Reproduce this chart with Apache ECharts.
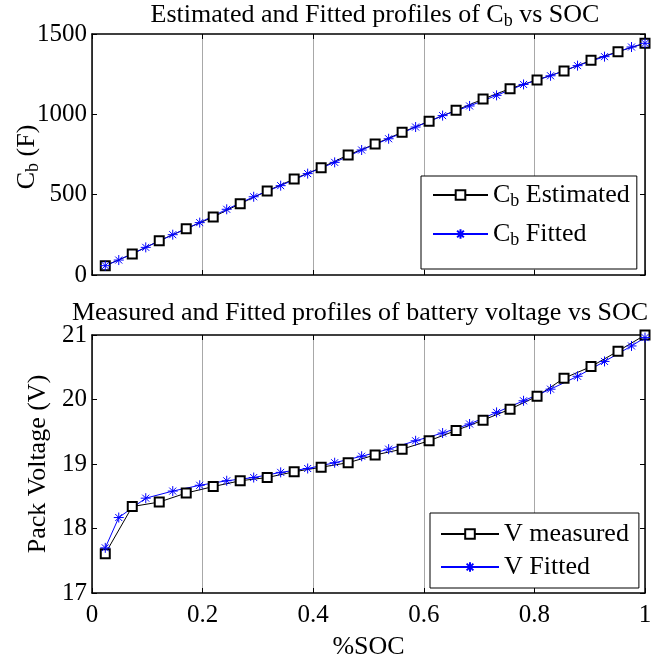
<!DOCTYPE html>
<html>
<head>
<meta charset="utf-8">
<script src="https://cdn.jsdelivr.net/npm/echarts@6/dist/echarts.min.js"></script>
<style>html,body{margin:0;padding:0;background:#fff}#c{width:654px;height:655px}</style>
</head>
<body>
<div id="c"></div>
<script>
// SOC positions of the estimated / measured points (squares)
var socSquares = [0.024, 0.0728, 0.1216, 0.1704, 0.2192, 0.268, 0.3168, 0.3656, 0.4144, 0.4632, 0.512, 0.5608, 0.6096, 0.6584, 0.7072, 0.756, 0.8048, 0.8536, 0.9024, 0.9512, 1.0];
// SOC positions of the fitted points (stars)
var socStars = [0.024, 0.0484, 0.0972, 0.146, 0.1948, 0.2436, 0.2924, 0.3412, 0.39, 0.4388, 0.4876, 0.5364, 0.5852, 0.634, 0.6828, 0.7316, 0.7804, 0.8292, 0.878, 0.9268, 0.9756, 1.0];
// Capacitance C_b (F)
var cbEstimated = [58, 131, 213, 288, 361, 444, 523, 598, 668, 747, 815, 888, 957, 1025, 1095, 1160, 1214, 1270, 1336, 1390, 1442];
var cbFitted = [58, 93, 172, 251, 326, 409, 487, 556, 631, 701, 778, 848, 921, 992, 1052, 1118, 1186, 1240, 1303, 1359, 1419, 1442];
// Pack voltage (V)
var vMeasured = [17.61, 18.34, 18.41, 18.55, 18.65, 18.74, 18.79, 18.88, 18.95, 19.02, 19.14, 19.23, 19.36, 19.52, 19.68, 19.85, 20.05, 20.33, 20.51, 20.75, 21.0];
var vFitted = [17.70, 18.17, 18.47, 18.58, 18.67, 18.74, 18.79, 18.87, 18.93, 19.02, 19.12, 19.23, 19.36, 19.48, 19.62, 19.80, 19.98, 20.16, 20.36, 20.59, 20.83, 20.96];
var xTicks = [0, 0.2, 0.4, 0.6, 0.8, 1];
var cbTicks = [0, 500, 1000, 1500];
var vTicks = [17, 18, 19, 20, 21];

function pairs(xs, ys) { return xs.map(function (x, i) { return [x, ys[i]]; }); }

var FONT = 'Liberation Serif';
var TICK_FS = 25;
var TXT_FS = 26;
var rich = {
  n: { fontFamily: FONT, fontSize: TXT_FS, lineHeight: 30, color: '#000' },
  s: { fontFamily: FONT, fontSize: 18, lineHeight: 16, verticalAlign: 'bottom', color: '#000' }
};
var STAR = 'path://M5,0L5,10M0,5L10,5M1.5,1.5L8.5,8.5M1.5,8.5L8.5,1.5';

function xAxisDef(grid, pos, showLabels) {
  return {
    type: 'value', gridIndex: grid, position: pos, min: 0, max: 1, interval: 0.2,
    axisLine: { show: true, onZero: false, lineStyle: { color: '#000', width: 1.5 } },
    axisTick: { show: true, inside: true, length: 5, lineStyle: { color: '#000', width: 1 } },
    axisLabel: { show: showLabels, fontFamily: FONT, fontSize: TICK_FS, color: '#000', margin: 10,
      formatter: function (v) { return xTicks.indexOf(v) >= 0 ? String(v) : ''; } },
    splitLine: { show: pos === 'bottom', lineStyle: { color: '#a8a8a8', width: 1 } }
  };
}
function yAxisDef(grid, pos, ticks, showLabels) {
  return {
    type: 'value', gridIndex: grid, position: pos, min: ticks[0], max: ticks[ticks.length - 1], interval: ticks[1] - ticks[0],
    axisLine: { show: true, onZero: false, lineStyle: { color: '#000', width: 1.5 } },
    axisTick: { show: true, inside: true, length: 5, lineStyle: { color: '#000', width: 1 } },
    axisLabel: { show: showLabels, fontFamily: FONT, fontSize: TICK_FS, color: '#000', margin: 5,
      formatter: function (v) { return String(v); } },
    splitLine: { show: false }
  };
}

var xa = [xAxisDef(0, 'bottom', false), xAxisDef(1, 'bottom', true), xAxisDef(0, 'top', false), xAxisDef(1, 'top', false)];
xa[1].name = '%SOC';
xa[1].nameLocation = 'middle';
xa[1].nameGap = 41;
xa[1].nameTextStyle = { fontFamily: FONT, fontSize: TXT_FS, color: '#000' };

var ya = [
  yAxisDef(0, 'left', cbTicks, true),
  yAxisDef(1, 'left', vTicks, true),
  yAxisDef(0, 'right', cbTicks, false),
  yAxisDef(1, 'right', vTicks, false)
];
ya[1].name = 'Pack Voltage (V)';
ya[1].nameLocation = 'middle';
ya[1].nameGap = 38;
ya[1].nameTextStyle = { fontFamily: FONT, fontSize: TXT_FS, color: '#000' };

var squareStyle = { symbol: 'emptyRect', symbolSize: 9, lineStyle: { color: '#000', width: 1 }, itemStyle: { color: '#000', borderColor: '#000', borderWidth: 1 } };
var starStyle = { symbol: STAR, symbolSize: 10, lineStyle: { color: '#0000ff', width: 1 }, itemStyle: { color: '#0000ff', borderColor: '#0000ff', borderWidth: 1 } };

function mk(name, xi, yi, data, style) {
  return Object.assign({ type: 'line', name: name, xAxisIndex: xi, yAxisIndex: yi, data: data, showAllSymbol: true, animation: false, z: 3 }, style);
}

var legendText = { fontFamily: FONT, fontSize: TXT_FS, color: '#000', rich: rich };
var option = {
  backgroundColor: '#fff',
  animation: false,
  grid: [
    { left: 92, top: 34, width: 553, height: 241, outerBoundsMode: 'none', containLabel: false },
    { left: 92, top: 335, width: 553, height: 258, outerBoundsMode: 'none', containLabel: false }
  ],
  xAxis: xa,
  yAxis: ya,
  legend: [
    { data: ['CbEst', 'CbFit'], left: 421, top: 176, orient: 'vertical', itemGap: 11, itemWidth: 55, itemHeight: 12,
      padding: [6, 7, 20, 11], backgroundColor: '#fff', borderColor: '#000', borderWidth: 1,
      textStyle: legendText,
      formatter: function (n) { return n === 'CbEst' ? '{n|C}{s|b}{n| Estimated}' : '{n|C}{s|b}{n| Fitted}'; } },
    { data: ['V measured', 'V Fitted'], left: 430, top: 513, orient: 'vertical', itemGap: 7, itemWidth: 58, itemHeight: 12,
      padding: [8, 10, 8, 10], backgroundColor: '#fff', borderColor: '#000', borderWidth: 1,
      textStyle: legendText,
      formatter: function (n) { return '{n|' + n + '}'; } }
  ],
  graphic: [
    { type: 'text', x: 375, y: 0, style: { text: '{n|Estimated and Fitted profiles of C}{s|b}{n| vs SOC}', rich: rich, align: 'center', verticalAlign: 'top' } },
    { type: 'text', x: 360, y: 298, style: { text: '{n|Measured and Fitted profiles of battery voltage vs SOC}', rich: rich, align: 'center', verticalAlign: 'top' } },
    { type: 'text', x: 27, y: 157, rotation: Math.PI / 2, style: { text: '{n|C}{s|b}{n| (F)}', rich: rich, align: 'center', verticalAlign: 'middle' } }
  ],
  series: [
    mk('CbEst', 0, 0, pairs(socSquares, cbEstimated), squareStyle),
    mk('CbFit', 0, 0, pairs(socStars, cbFitted), starStyle),
    mk('V measured', 1, 1, pairs(socSquares, vMeasured), squareStyle),
    mk('V Fitted', 1, 1, pairs(socStars, vFitted), starStyle)
  ]
};
var chart = echarts.init(document.getElementById('c'), null, { renderer: 'canvas' });
chart.setOption(option);
</script>
</body>
</html>
